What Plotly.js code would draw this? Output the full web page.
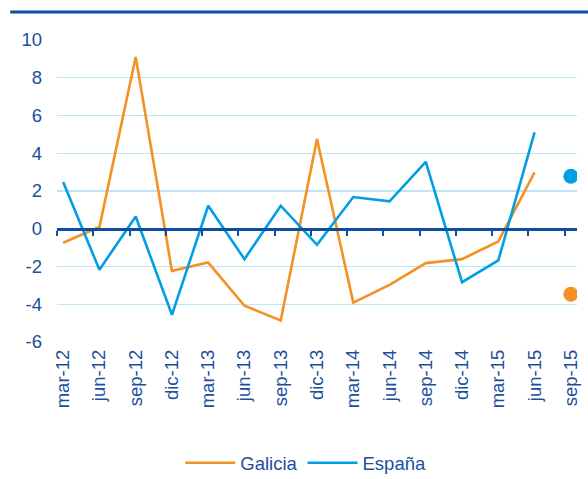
<!DOCTYPE html>
<html>
<head>
<meta charset="utf-8">
<script src="https://cdn.plot.ly/plotly-3.0.1.min.js"></script>
<style>html,body{margin:0;padding:0;background:#fff;}#chart{width:588px;height:479px;}</style>
</head>
<body>
<div id="chart"></div>
<script>
const categories = ["mar-12","jun-12","sep-12","dic-12","mar-13","jun-13","sep-13","dic-13","mar-14","jun-14","sep-14","dic-14","mar-15","jun-15","sep-15"];
const galicia = [-0.74, 0.09, 9.1, -2.23, -1.79, -4.08, -4.86, 4.76, -3.91, -2.97, -1.82, -1.61, -0.67, 2.99, null];
const espana  = [2.48, -2.17, 0.65, -4.56, 1.22, -1.61, 1.22, -0.85, 1.68, 1.45, 3.54, -2.83, -1.68, 5.11, null];
const forecastCategory = ["sep-15"];
const galiciaForecast = [-3.47];
const espanaForecast = [2.78];
const yTicks = [-6, -4, -2, 0, 2, 4, 6, 8, 10];
const yTickLabels = ["-6", "-4", "-2", "0", "2", "4", "6", "8", "10"];

const orange = "#F39223";
const blue = "#009FE3";
const navy = "#0B4EA2";
const textBlue = "#1B4F9C";

const tickOffset = 0.17;
const tickPositions = categories.map((c, i) => i - tickOffset);
const xRange = [-tickOffset, categories.length - 1 + tickOffset];

const traces = [
  {x: categories, y: galicia, name: "Galicia", type: "scatter", mode: "lines",
   line: {color: orange, width: 2.6}, xaxis: "x", yaxis: "y"},
  {x: categories, y: espana, name: "España", type: "scatter", mode: "lines",
   line: {color: blue, width: 2.6}, xaxis: "x", yaxis: "y"},
  {x: forecastCategory, y: espanaForecast, type: "scatter", mode: "markers",
   marker: {color: blue, size: 15}, showlegend: false, xaxis: "x", yaxis: "y"},
  {x: forecastCategory, y: galiciaForecast, type: "scatter", mode: "markers",
   marker: {color: orange, size: 15}, showlegend: false, xaxis: "x", yaxis: "y"},
  {x: tickPositions, y: tickPositions.map(() => null), type: "scatter", mode: "lines",
   showlegend: false, hoverinfo: "skip", xaxis: "x2", yaxis: "y"}
];

const layout = {
  width: 588, height: 479,
  margin: {l: 57, r: 11, t: 40, b: 137, autoexpand: false},
  paper_bgcolor: "#fff", plot_bgcolor: "#fff",
  font: {family: "Liberation Sans, Arial, sans-serif", color: textBlue, size: 18},
  showlegend: true,
  legend: {orientation: "h", xref: "container", yref: "container", x: 0.52, xanchor: "center",
           y: 0.033, yanchor: "middle",
           font: {size: 18.5, color: textBlue}, itemwidth: 50, tracegroupgap: 0},
  xaxis: {type: "category", range: xRange, showgrid: false, zeroline: false, showline: false,
          automargin: false,
          ticks: "", tickangle: -90, tickfont: {size: 18.5, color: textBlue}, ticklabelstandoff: 3},
  xaxis2: {type: "linear", overlaying: "x", anchor: "free", position: 6/16, range: xRange,
           automargin: false,
           showgrid: false, zeroline: false, showline: true, linecolor: navy, linewidth: 3,
           ticks: "outside", tickvals: tickPositions, ticklen: 5, tickwidth: 2, tickcolor: navy,
           showticklabels: false},
  yaxis: {range: [-6, 10], tickvals: yTicks, ticktext: yTickLabels, showgrid: true,
          gridcolor: "#BDE5F5", gridwidth: 1.3, automargin: false,
          zeroline: false, showline: false, ticks: "", tickfont: {size: 18.5, color: textBlue},
          ticklabelstandoff: 14},
  shapes: [
    {type: "line", xref: "paper", yref: "paper", x0: -0.09, x1: 1.03, y0: 1.0927, y1: 1.0927,
     line: {color: navy, width: 3}}
  ]
};

Plotly.newPlot("chart", traces, layout, {displayModeBar: false, staticPlot: true});
</script>
</body>
</html>
